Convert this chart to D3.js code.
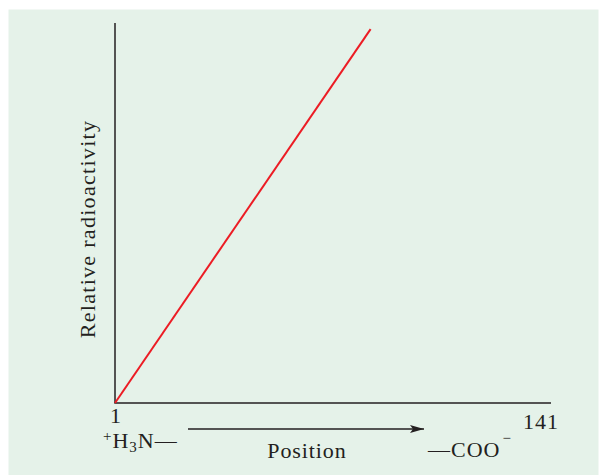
<!doctype html>
<html lang="en">
<head>
  <meta charset="utf-8">
  <title>Relative radioactivity by position</title>
</head>
<style>
body {
	margin: 0;
	background: #ffffff;
	font-family: "Liberation Serif", "DejaVu Serif", serif;
}
</style>
<body>
  <script src="https://d3js.org/d3.v7.min.js"></script>
  <script>

	// data: residue position vs relative radioactivity
	var positions = [1, 85];
	var activity = [0, 0.984];
	var xTicks = [1, 141];
	var yLabel = "Relative radioactivity";
	var xLabel = "Position";

	var svg = d3.select("body").append("svg")
		.attr("width", 600)
		.attr("height", 475);

	// light green panel
	svg.append("rect")
		.attr("x", 8.5)
		.attr("y", 9.5)
		.attr("width", 590)
		.attr("height", 466)
		.attr("fill", "#e5f2e9");

	var x = d3.scaleLinear()
		.domain([1, 141])
		.range([115, 541]);

	var y = d3.scaleLinear()
		.domain([0, 1])
		.range([403, 23]);

	var g = svg.append("g");

	// axes (plain lines, no ticks)
	g.append("line")
		.attr("x1", x(1)).attr("y1", y(0))
		.attr("x2", x(1)).attr("y2", y(1))
		.attr("stroke", "#231f20")
		.attr("stroke-width", 1.5);

	g.append("line")
		.attr("x1", x(1) - 0.75).attr("y1", y(0))
		.attr("x2", 551).attr("y2", y(0))
		.attr("stroke", "#231f20")
		.attr("stroke-width", 1.5);

	// red line
	var line = d3.line()
		.x(function (d, i) { return x(positions[i]); })
		.y(function (d) { return y(d); });

	g.append("path")
		.datum(activity)
		.attr("d", line)
		.attr("fill", "none")
		.attr("stroke", "#ec1c24")
		.attr("stroke-width", 2);

	// tick labels
	g.selectAll(".tick-label")
		.data(xTicks)
		.join("text")
		.classed("tick-label", true)
		.attr("x", function (d) { return x(d) + (d === 1 ? 1 : 0); })
		.attr("y", function (d) { return d === 1 ? 423 : 429; })
		.attr("text-anchor", "middle")
		.attr("font-size", "22px")
		.attr("letter-spacing", "1px")
		.attr("fill", "#231f20")
		.text(function (d) { return d; });

	// y label
	g.append("text")
		.attr("transform", "translate(95,229) rotate(-90)")
		.attr("text-anchor", "middle")
		.attr("font-size", "22px")
		.attr("letter-spacing", "1.3px")
		.attr("fill", "#231f20")
		.text(yLabel);

	// N-terminus
	var nt = g.append("text")
		.attr("x", 103)
		.attr("y", 448)
		.attr("font-size", "22px")
		.attr("letter-spacing", "1px")
		.attr("fill", "#231f20");
	nt.append("tspan").attr("font-size", "15px").attr("dy", -7).text("+");
	nt.append("tspan").attr("dy", 7).text("H");
	nt.append("tspan").attr("font-size", "15px").attr("dy", 4).text("3");
	nt.append("tspan").attr("dy", -4).text("N\u2014");

	// arrow
	svg.append("defs").append("marker")
		.attr("id", "arrow")
		.attr("viewBox", "0 0 14 8")
		.attr("refX", 14)
		.attr("refY", 4)
		.attr("markerWidth", 14)
		.attr("markerHeight", 8)
		.attr("markerUnits", "userSpaceOnUse")
		.attr("orient", "auto")
		.append("path")
		.attr("d", "M0,0 L14,4 L0,8 L3,4 Z")
		.attr("fill", "#231f20");

	g.append("line")
		.attr("x1", 188).attr("y1", 429)
		.attr("x2", 424).attr("y2", 429)
		.attr("stroke", "#231f20")
		.attr("stroke-width", 1.5)
		.attr("marker-end", "url(#arrow)");

	g.append("text")
		.attr("x", 307)
		.attr("y", 458)
		.attr("text-anchor", "middle")
		.attr("font-size", "22px")
		.attr("letter-spacing", "0.9px")
		.attr("fill", "#231f20")
		.text(xLabel);

	// C-terminus
	var ct = g.append("text")
		.attr("x", 428)
		.attr("y", 457)
		.attr("font-size", "22px")
		.attr("letter-spacing", "1px")
		.attr("fill", "#231f20");
	ct.append("tspan").text("\u2014COO");
	ct.append("tspan").attr("font-size", "15px").attr("dx", 2).attr("dy", -14).text("\u2212");

  </script>
</body>
</html>
